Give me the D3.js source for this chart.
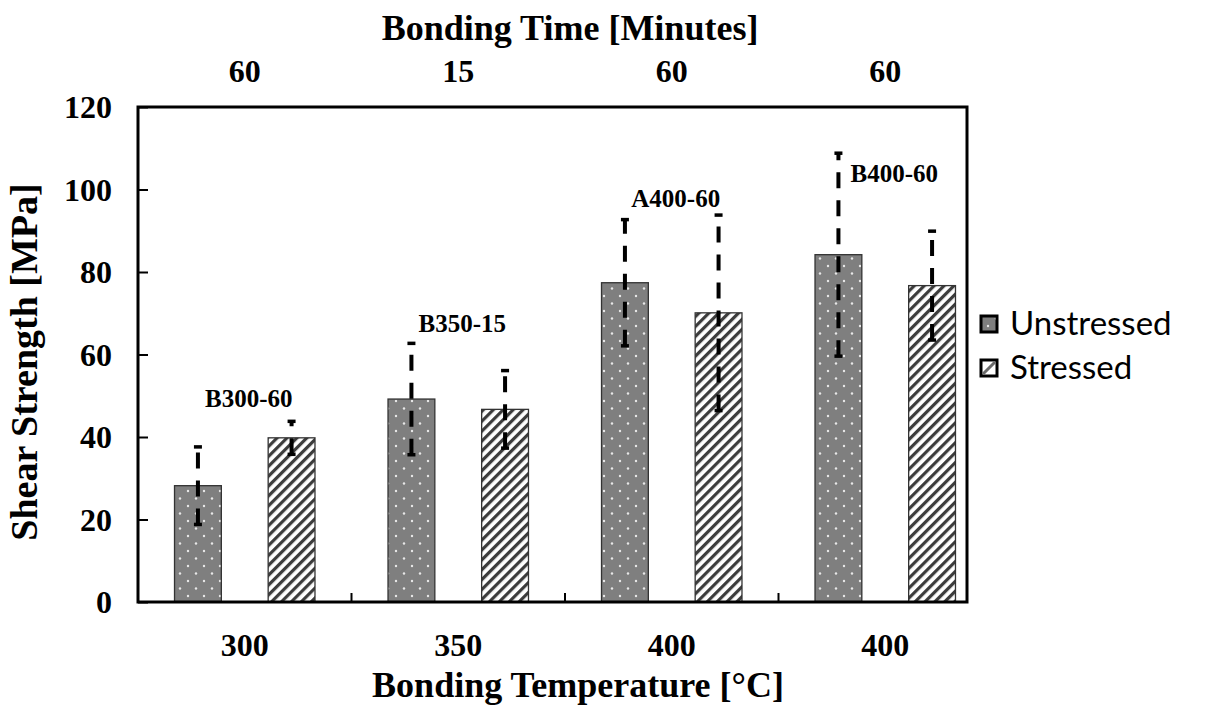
<!DOCTYPE html>
<html><head><meta charset="utf-8">
<script src="https://cdn.jsdelivr.net/npm/d3@7"></script>
<style>html,body{margin:0;padding:0;background:#fff;} svg{display:block;}</style>
</head><body>
<svg id="chart" width="1209" height="708"></svg>
<script>
// Shear strength of bonded samples, unstressed vs stressed
const temperatures = ["300", "350", "400", "400"];
const bondingTimes = ["60", "15", "60", "60"];
const sampleLabels = ["B300-60", "B350-15", "A400-60", "B400-60"];
const labelLevels = [47.2, 65.5, 95.7, 101.9];
const seriesNames = ["Unstressed", "Stressed"];
const unstressedMean = [28.2, 49.2, 77.4, 84.2];
const unstressedErr = [9.4, 13.5, 15.3, 24.6];
const stressedMean = [39.8, 46.7, 70.1, 76.7];
const stressedErr = [4.0, 9.4, 23.7, 13.2];
const yTicks = [0, 20, 40, 60, 80, 100, 120];

const plot = {left: 138, right: 992, frameRight: 967, top: 107, bottom: 602};
const serif = "'Liberation Serif','Times New Roman',serif";
const sans = "Lato,'Noto Sans',sans-serif";

const svg = d3.select("#chart");
const defs = svg.append("defs");

// dotted gray fill
const dots = defs.append("pattern").attr("id", "dots")
  .attr("patternUnits", "userSpaceOnUse").attr("width", 16).attr("height", 15);
dots.append("rect").attr("width", 16).attr("height", 15).attr("fill", "#7f7f7f");
dots.append("circle").attr("cx", 4).attr("cy", 3.5).attr("r", 1.2).attr("fill", "#e8e8e8");
dots.append("circle").attr("cx", 12).attr("cy", 11).attr("r", 1.2).attr("fill", "#e8e8e8");

// wide upward diagonal stripes
const stripes = defs.append("pattern").attr("id", "stripes")
  .attr("patternUnits", "userSpaceOnUse").attr("width", 7).attr("height", 7)
  .attr("patternTransform", "rotate(45)");
stripes.append("rect").attr("width", 7).attr("height", 7).attr("fill", "#fff");
stripes.append("rect").attr("x", 0).attr("width", 3.2).attr("height", 7).attr("fill", "#3c3c3c");

const idx = d3.range(temperatures.length);
const x = d3.scaleBand().domain(idx).range([plot.left, plot.right]).padding(0);
const xs = d3.scaleBand().domain(seriesNames).range([0, x.bandwidth()])
  .paddingInner(0.5).paddingOuter(0.39);
const y = d3.scaleLinear().domain([0, 120]).range([plot.bottom, plot.top]);

const series = [
  {name: "Unstressed", mean: unstressedMean, err: unstressedErr, fill: "url(#dots)"},
  {name: "Stressed", mean: stressedMean, err: stressedErr, fill: "url(#stripes)"}
];

// bars
series.forEach(s => {
  svg.append("g").selectAll("rect").data(idx).join("rect")
    .attr("x", i => x(i) + xs(s.name))
    .attr("y", i => y(s.mean[i]))
    .attr("width", xs.bandwidth())
    .attr("height", i => y(0) - y(s.mean[i]))
    .attr("fill", s.fill)
    .attr("stroke", "#333").attr("stroke-width", 1.3);
});

// error bars
series.forEach(s => {
  const g = svg.append("g");
  idx.forEach(i => {
    const cx = x(i) + xs(s.name) + xs.bandwidth() / 2;
    const lo = y(s.mean[i] - s.err[i]), hi = y(s.mean[i] + s.err[i]);
    g.append("line").attr("x1", cx).attr("x2", cx).attr("y1", lo).attr("y2", hi)
      .attr("stroke", "#000").attr("stroke-width", 4).attr("stroke-dasharray", "16,12");
    [lo, hi].forEach(v => g.append("line").attr("x1", cx - 4).attr("x2", cx + 4)
      .attr("y1", v).attr("y2", v).attr("stroke", "#000").attr("stroke-width", 3.5));
  });
});

function addText(g, tx, ty, str, size, anchor, family, weight, rot) {
  return g.append("text")
    .attr("transform", `translate(${tx},${ty})` + (rot ? ` rotate(${rot})` : ""))
    .attr("text-anchor", anchor).attr("font-family", family)
    .attr("font-weight", weight).attr("font-size", size).attr("fill", "#000").text(str);
}

// y axis
const yAxis = svg.append("g").attr("transform", `translate(${plot.left},0)`)
  .call(d3.axisLeft(y).tickValues(yTicks).tickSize(-10).tickPadding(26).tickSizeOuter(0));
yAxis.select(".domain").remove();
yAxis.selectAll(".tick line").attr("stroke", "#000").attr("stroke-width", 2);
yAxis.selectAll(".tick text").attr("dy", "0.34em")
  .attr("font-family", serif).attr("font-weight", "bold").attr("font-size", 32)
  .attr("fill", "#000");

// bottom axis: temperature
const xAxis = svg.append("g").attr("transform", `translate(0,${plot.bottom})`)
  .call(d3.axisBottom(x).tickFormat(i => temperatures[i]).tickSize(0).tickPadding(0));
xAxis.select(".domain").remove();
xAxis.selectAll(".tick text").attr("y", 54).attr("dy", null)
  .attr("font-family", serif).attr("font-weight", "bold").attr("font-size", 32).attr("fill", "#000");

// top axis: bonding time
const tAxis = svg.append("g").attr("transform", `translate(0,${plot.top})`)
  .call(d3.axisTop(x).tickFormat(i => bondingTimes[i]).tickSize(0).tickPadding(0));
tAxis.select(".domain").remove();
tAxis.selectAll(".tick text").attr("y", -25).attr("dy", null)
  .attr("font-family", serif).attr("font-weight", "bold").attr("font-size", 32).attr("fill", "#000");

// category separators
svg.append("g").selectAll("line").data(idx.slice(1)).join("line")
  .attr("x1", i => x(i)).attr("x2", i => x(i))
  .attr("y1", plot.bottom).attr("y2", plot.bottom - 9)
  .attr("stroke", "#000").attr("stroke-width", 2);

// frame
svg.append("rect").attr("x", plot.left).attr("y", plot.top)
  .attr("width", plot.frameRight - plot.left).attr("height", plot.bottom - plot.top)
  .attr("fill", "none").attr("stroke", "#000").attr("stroke-width", 3);

// sample labels
const lg = svg.append("g");
idx.forEach(i => addText(lg, x(i) + x.bandwidth() / 2 + (i === 3 ? 9 : 4), y(labelLevels[i]),
  sampleLabels[i], 25, "middle", serif, "bold"));

// titles
const tg = svg.append("g");
addText(tg, 570, 40, "Bonding Time [Minutes]", 36, "middle", serif, "bold");
addText(tg, 578, 697, "Bonding Temperature [°C]", 36, "middle", serif, "bold");
addText(tg, 37, 362, "Shear Strength [MPa]", 38, "middle", serif, "bold", -90);

// legend
const leg = svg.append("g");
const legY = [324, 368];
series.forEach((s, k) => {
  const cy = legY[k];
  leg.append("rect").attr("x", 981).attr("y", cy - 8).attr("width", 16).attr("height", 16)
    .attr("fill", k === 0 ? "url(#dots)" : "#fff").attr("stroke", "#000").attr("stroke-width", 3);
  if (k === 1) {
    leg.append("line").attr("x1", 983).attr("y1", cy + 6).attr("x2", 995).attr("y2", cy - 6)
      .attr("stroke", "#6a6a6a").attr("stroke-width", 3);
  }
  addText(leg, 1010, cy + 11, s.name, 33, "start", sans, "normal");
});
</script>
</body></html>
